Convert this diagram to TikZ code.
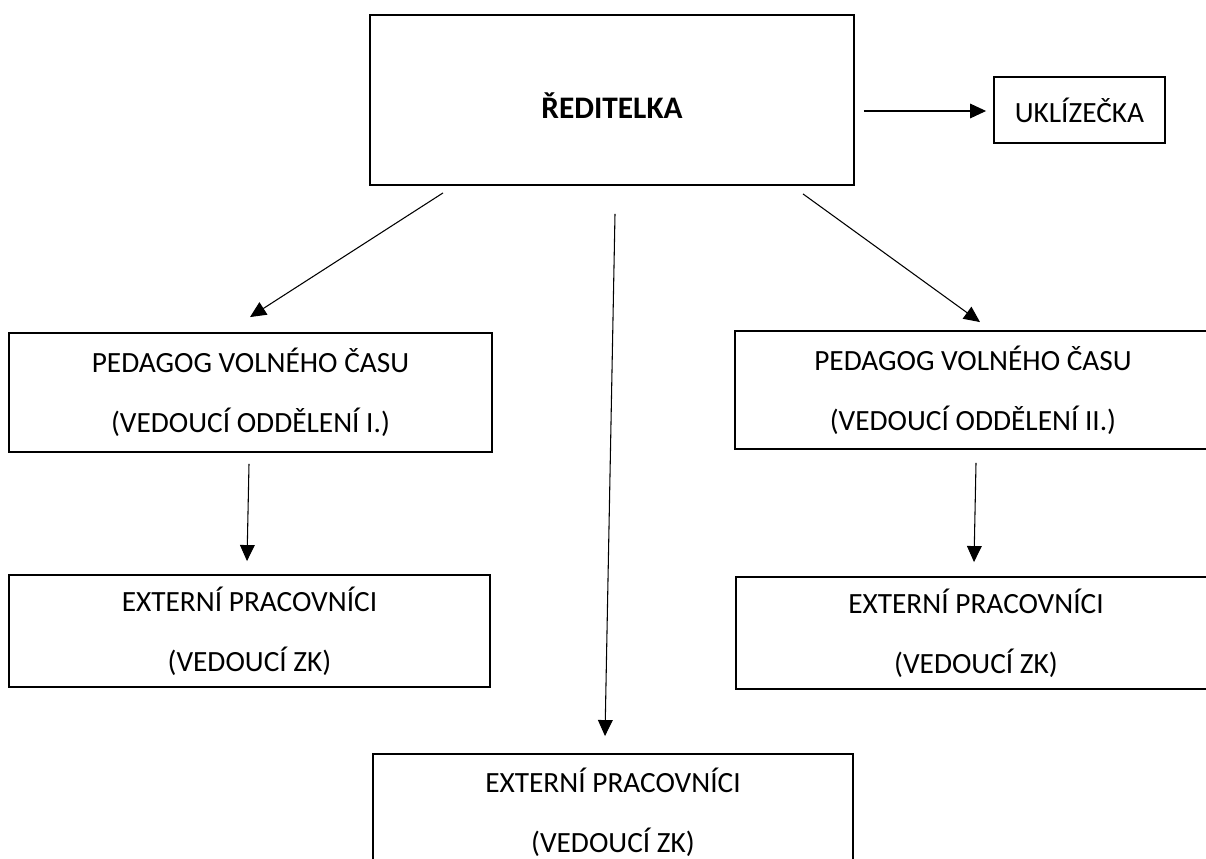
\documentclass[tikz,border=0pt]{standalone}
\usepackage{fontspec}
\setmainfont{Carlito}
\usetikzlibrary{calc,arrows.meta}
\tikzset{
  box/.style={draw, line width=1.4pt, rectangle, inner sep=0pt, align=center,
    font=\fontsize{22}{45}\selectfont},
  arr/.style={line width=0.8pt, -{Triangle[width=11pt,length=12pt]}}
}
\begin{document}
\begin{tikzpicture}[x=0.75pt,y=-0.75pt]
\useasboundingbox (0,0) rectangle (1206,859);
\clip (0,0) rectangle (1206,859);
\node[box, minimum width=363pt, minimum height=127.5pt, text height=28pt, text depth=0pt,
  font=\fontsize{23.5}{45}\selectfont\bfseries] (red) at (612,100) {ŘEDITELKA};
\node[box, minimum width=128.25pt, minimum height=49.5pt] (ukl) at (1079.5,110) {UKLÍZEČKA};
\node[box, minimum width=362.25pt, minimum height=89.25pt] (ped1) at (250.5,392.5) {PEDAGOG VOLNÉHO ČASU\\(VEDOUCÍ ODDĚLENÍ I.)};
\node[box, minimum width=357pt, minimum height=88.5pt] (ped2) at (973,390) {PEDAGOG VOLNÉHO ČASU\\(VEDOUCÍ ODDĚLENÍ II.)};
\node[box, minimum width=360.75pt, minimum height=84pt] (ext1) at (249.5,631) {EXTERNÍ PRACOVNÍCI\\(VEDOUCÍ ZK)};
\node[box, minimum width=360pt, minimum height=84pt] (ext2) at (976,633) {EXTERNÍ PRACOVNÍCI\\(VEDOUCÍ ZK)};
\node[box, minimum width=360pt, minimum height=87pt] (ext3) at (613,812) {EXTERNÍ PRACOVNÍCI\\(VEDOUCÍ ZK)};
\draw[arr] ($(red.east)+(9,11)$) -- ($(ukl.west)+(-7,1)$);
\draw[arr] ($(red.south)+(-169,7)$) -- ($(ped1.north)+(-0.5,-15)$);
\draw[arr] ($(red.south)+(3,28)$) -- ($(ext3.north)+(-8,-17)$);
\draw[arr] ($(red.south)+(191,8)$) -- ($(ped2.north)+(7,-8)$);
\draw[arr] ($(ped1.south)+(-1.5,11)$) -- ($(ext1.north)+(-2.5,-13)$);
\draw[arr] ($(ped2.south)+(3,13)$) -- ($(ext2.north)+(-2,-14)$);
\end{tikzpicture}
\end{document}
